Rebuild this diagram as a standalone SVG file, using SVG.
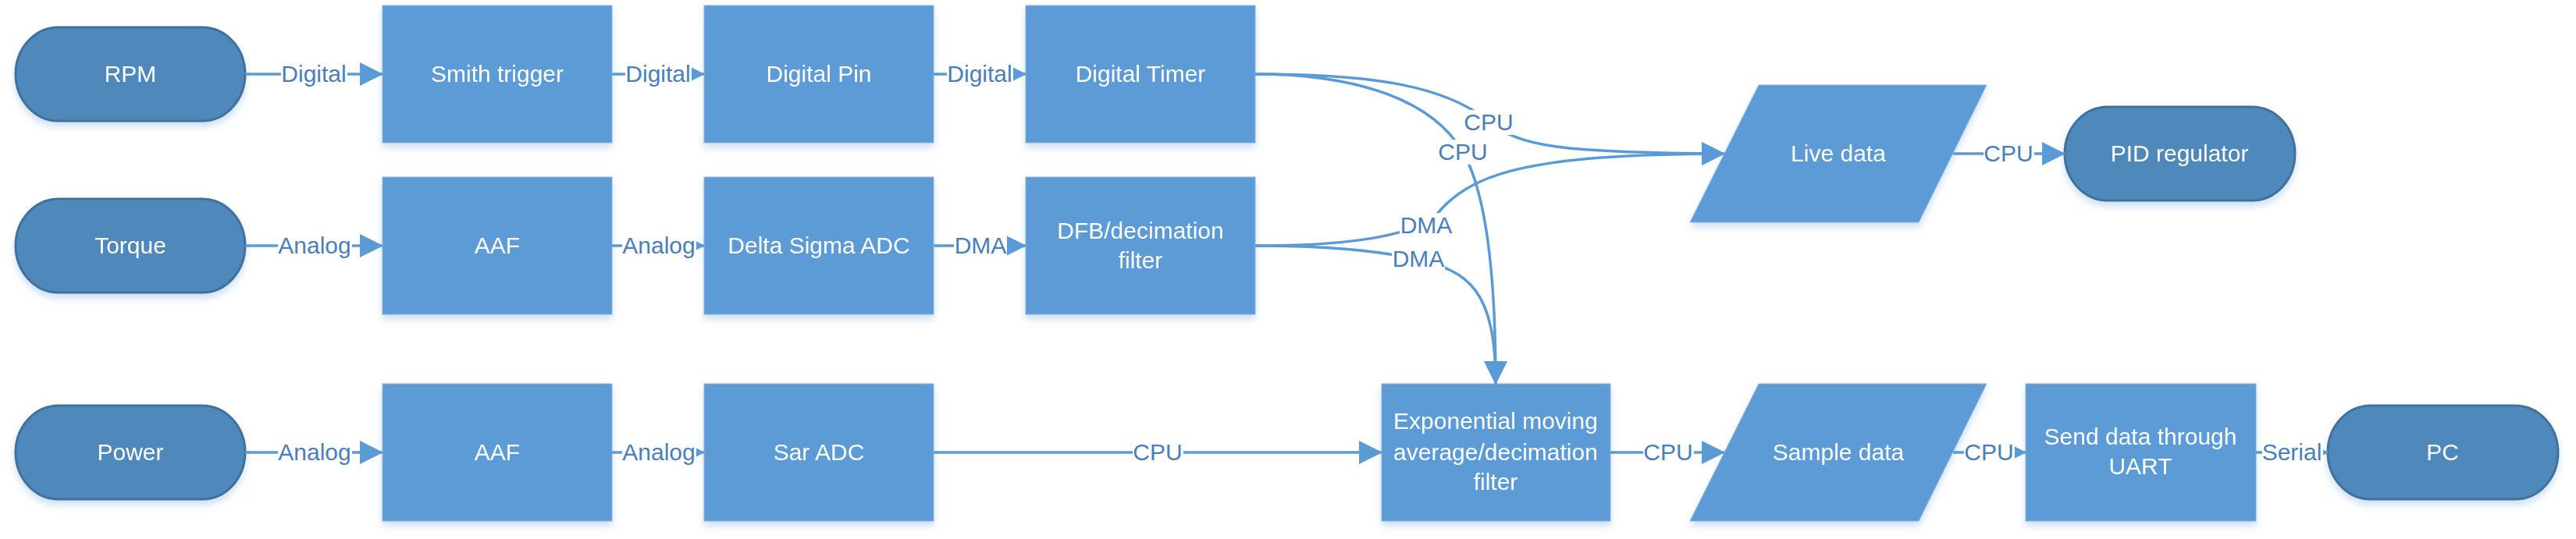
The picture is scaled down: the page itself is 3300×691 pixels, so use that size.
<svg xmlns="http://www.w3.org/2000/svg" width="3300" height="691" viewBox="0 0 3300 691">
<style>
.bg{fill:#ffffff}
.rect{fill:#5B9BD5;stroke:#8DB3E0;stroke-width:1}
.term{fill:#4F88BB;stroke:#41719C;stroke-width:3}
.t{font-family:"Liberation Sans",Arial,sans-serif;font-size:30px;fill:#ffffff;text-anchor:middle}
.l{font-family:"Liberation Sans",Arial,sans-serif;font-size:30px;fill:#4A7EBB;text-anchor:middle}
.c{fill:none;stroke:#5B9BD5;stroke-width:3.5;marker-end:url(#ah)}
.lb{fill:#ffffff}
</style>
<defs>
<marker id="ah" markerUnits="userSpaceOnUse" markerWidth="30" markerHeight="30" viewBox="0 0 29 29" refX="28" refY="14.5" orient="auto">
<path d="M0,0 L29,14.5 L0,29 z" fill="#5B9BD5"/>
</marker>
<filter id="sh" x="-10%" y="-10%" width="120%" height="130%">
<feDropShadow dx="0" dy="6" stdDeviation="5" flood-color="#5B9BD5" flood-opacity="0.3"/>
</filter>
</defs>
<rect class="bg" width="3300" height="691"/>

<g id="rpm" filter="url(#sh)"><rect class="term" x="20" y="35" width="294" height="120" rx="55" ry="60"/><text class="t" x="167" y="105">RPM</text></g>
<g id="torque" filter="url(#sh)"><rect class="term" x="20" y="255" width="294" height="120" rx="55" ry="60"/><text class="t" x="167" y="325">Torque</text></g>
<g id="power" filter="url(#sh)"><rect class="term" x="20" y="520" width="294" height="120" rx="55" ry="60"/><text class="t" x="167" y="590">Power</text></g>

<g id="smith" filter="url(#sh)"><rect class="rect" x="490" y="7" width="294" height="176"/><text class="t" x="637" y="105">Smith trigger</text></g>
<g id="digitalpin" filter="url(#sh)"><rect class="rect" x="902" y="7" width="294" height="176"/><text class="t" x="1049" y="105">Digital Pin</text></g>
<g id="timer" filter="url(#sh)"><rect class="rect" x="1314" y="7" width="294" height="176"/><text class="t" x="1461" y="105">Digital Timer</text></g>

<g id="aaf1" filter="url(#sh)"><rect class="rect" x="490" y="227" width="294" height="176"/><text class="t" x="637" y="325">AAF</text></g>
<g id="deltasigma" filter="url(#sh)"><rect class="rect" x="902" y="227" width="294" height="176"/><text class="t" x="1049" y="325">Delta Sigma ADC</text></g>
<g id="dfb" filter="url(#sh)"><rect class="rect" x="1314" y="227" width="294" height="176"/><text class="t" x="1461" y="306">DFB/decimation</text><text class="t" x="1461" y="344">filter</text></g>

<g id="aaf2" filter="url(#sh)"><rect class="rect" x="490" y="492" width="294" height="176"/><text class="t" x="637" y="590">AAF</text></g>
<g id="sar" filter="url(#sh)"><rect class="rect" x="902" y="492" width="294" height="176"/><text class="t" x="1049" y="590">Sar ADC</text></g>
<g id="ema" filter="url(#sh)"><rect class="rect" x="1770" y="492" width="293" height="176"/><text class="t" x="1916" y="550">Exponential moving</text><text class="t" x="1916" y="590">average/decimation</text><text class="t" x="1916" y="628">filter</text></g>

<g id="livedata" filter="url(#sh)"><path class="rect" d="M2253,109 L2545,109 L2458,285 L2165,285 Z"/><text class="t" x="2355" y="207">Live data</text></g>
<g id="pid" filter="url(#sh)"><rect class="term" x="2645" y="137" width="295" height="120" rx="55" ry="60"/><text class="t" x="2792" y="207">PID regulator</text></g>

<g id="sampledata" filter="url(#sh)"><path class="rect" d="M2253,492 L2545,492 L2458,668 L2165,668 Z"/><text class="t" x="2355" y="590">Sample data</text></g>
<g id="uart" filter="url(#sh)"><rect class="rect" x="2595" y="492" width="295" height="176"/><text class="t" x="2742" y="570">Send data through</text><text class="t" x="2742" y="608">UART</text></g>
<g id="pc" filter="url(#sh)"><rect class="term" x="2982" y="520" width="295" height="120" rx="55" ry="60"/><text class="t" x="3129" y="590">PC</text></g>

<g id="connectors">
<path class="c" d="M314,95 H490"/>
<path class="c" d="M784,95 H902"/>
<path class="c" d="M1196,95 H1314"/>
<path class="c" d="M314,315 H490"/>
<path class="c" d="M784,315 H902"/>
<path class="c" d="M1196,315 H1314"/>
<path class="c" d="M314,580 H490"/>
<path class="c" d="M784,580 H902"/>
<path class="c" d="M1196,580 H1770"/>
<path class="c" d="M2063,580 H2209"/>
<path class="c" d="M2502,580 H2595"/>
<path class="c" d="M2890,580 H2982"/>
<path class="c" d="M2502,197 H2645"/>
<path class="c" d="M1608,95 C1760,95 1850,110 1907,155 C1945,188 2000,196 2209,197"/>
<path class="c" d="M1608,95 C1720,95 1830,120 1874,195 C1900,240 1916,330 1916,492"/>
<path class="c" d="M1608,315 C1720,315 1790,305 1835,282 C1880,220 1960,198 2209,197"/>
<path class="c" d="M1608,315 C1700,315 1770,322 1817,333 C1880,348 1916,370 1916,492"/>

<g id="labels">
<rect class="lb" x="360" y="80" width="85" height="30"/><text class="l" x="402" y="105">Digital</text>
<rect class="lb" x="801" y="80" width="85" height="30"/><text class="l" x="843" y="105">Digital</text>
<rect class="lb" x="1213" y="80" width="85" height="30"/><text class="l" x="1255" y="105">Digital</text>
<rect class="lb" x="356" y="300" width="95" height="30"/><text class="l" x="403" y="325">Analog</text>
<rect class="lb" x="797" y="300" width="95" height="30"/><text class="l" x="844" y="325">Analog</text>
<rect class="lb" x="1222" y="300" width="68" height="30"/><text class="l" x="1256" y="325">DMA</text>
<rect class="lb" x="356" y="565" width="95" height="30"/><text class="l" x="403" y="590">Analog</text>
<rect class="lb" x="797" y="565" width="95" height="30"/><text class="l" x="844" y="590">Analog</text>
<rect class="lb" x="1451" y="565" width="65" height="30"/><text class="l" x="1483" y="590">CPU</text>
<rect class="lb" x="2105" y="565" width="65" height="30"/><text class="l" x="2137" y="590">CPU</text>
<rect class="lb" x="2516" y="565" width="65" height="30"/><text class="l" x="2548" y="590">CPU</text>
<rect class="lb" x="2898" y="565" width="78" height="30"/><text class="l" x="2936" y="590">Serial</text>
<rect class="lb" x="2541" y="182" width="65" height="30"/><text class="l" x="2573" y="207">CPU</text>
<rect class="lb" x="1875" y="141" width="65" height="32"/><text class="l" x="1907" y="167">CPU</text>
<rect class="lb" x="1842" y="179" width="65" height="32"/><text class="l" x="1874" y="205">CPU</text>
<rect class="lb" x="1793" y="273" width="68" height="32"/><text class="l" x="1827" y="299">DMA</text>
<rect class="lb" x="1783" y="316" width="68" height="32"/><text class="l" x="1817" y="342">DMA</text>
</g>
</g>
</svg>
